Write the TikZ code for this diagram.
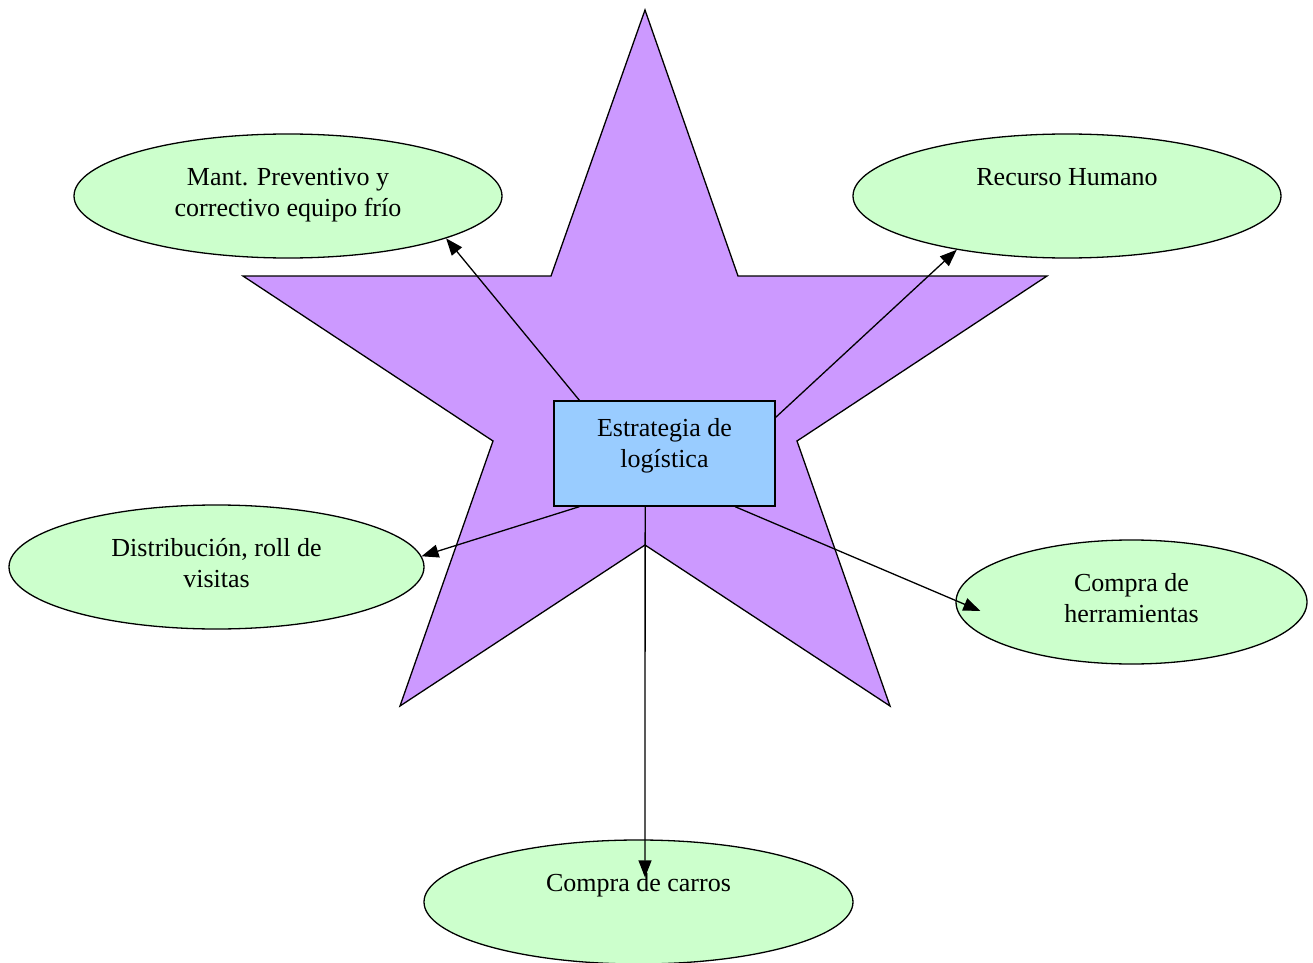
\documentclass[tikz,border=0pt]{standalone}
\usepackage{fontspec}
\setmainfont{Liberation Serif}
\usetikzlibrary{shapes.geometric,arrows.meta}
\definecolor{starfill}{HTML}{CC99FF}
\definecolor{boxfill}{HTML}{99CCFF}
\definecolor{goalfill}{HTML}{CCFFCC}
\begin{document}
\begin{tikzpicture}[x=0.5pt,y=-0.5pt,
  every node/.style={font=\fontsize{13}{15.5}\selectfont, align=center},
  goal/.style={draw, ellipse, fill=goalfill, line width=0.65pt, inner sep=0pt,
    minimum height=62pt, text height=9pt, text depth=20pt},
  goaltwo/.style={goal, text height=24pt, text depth=4pt},
  link/.style={-{Triangle[length=8.5pt,width=6.5pt]}, line width=0.65pt}]
  \useasboundingbox (0,0) rectangle (1313,963);
  % star behind everything
  \draw[fill=starfill, line width=0.65pt] (645,10) -- (738,276) -- (1047,276) -- (797,441)
    -- (890,706) -- (645,545) -- (400,706) -- (493,441) -- (243,276) -- (551,276) -- cycle;
  % centre box
  \node[draw, fill=boxfill, line width=0.65pt, inner sep=0pt, minimum width=110.5pt,
    minimum height=52.5pt, text height=22pt, text depth=8.5pt] (estrategia) at (664.5,453.5)
    {Estrategia de\\log\'istica};
  % goals
  \node[goaltwo, minimum width=214pt] (mant) at (288,196) {Mant. Preventivo y\\correctivo equipo fr\'io};
  \node[goal, minimum width=214pt] (recurso) at (1067,196) {Recurso Humano};
  \node[goaltwo, minimum width=207.5pt] (distrib) at (216.5,567) {Distribuci\'on, roll de\\visitas};
  \node[goaltwo, minimum width=175.5pt] (herram) at (1131.5,602) {Compra de\\herramientas};
  \node[goal, minimum width=214.5pt] (carros) at (638.5,902) {Compra de carros};
  % arrows
  \draw[link] (estrategia.148) -- (mant.-15);
  \draw[link] (estrategia.18) -- (recurso.206);
  \draw[link] (estrategia.212) -- (distrib.3);
  \draw[link] (estrategia.-37) -- ([shift={(25,9)}]herram.west);
  \draw[link] (estrategia.250) -- ([shift={(6.5,38)}]carros.north);
\end{tikzpicture}
\end{document}
